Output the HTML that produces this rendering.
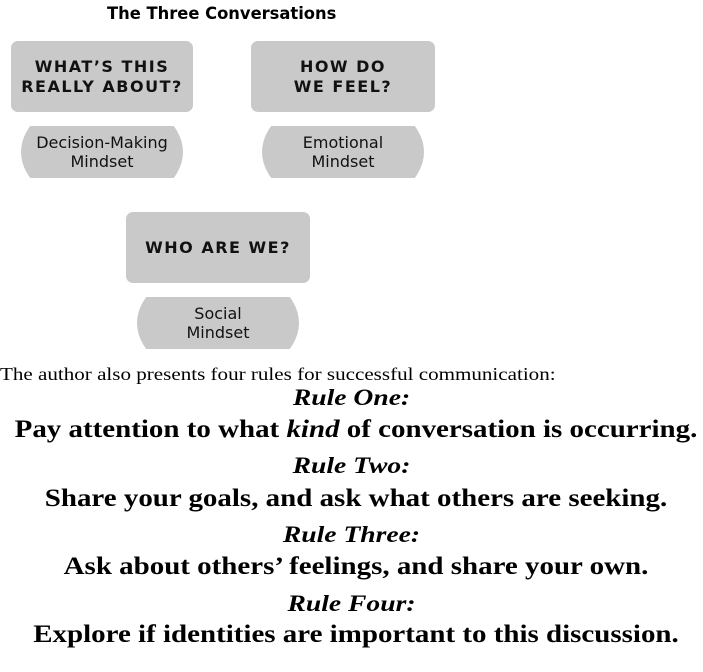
<!DOCTYPE html>
<html><head><meta charset="utf-8"><style>
body{margin:0;width:703px;height:672px;background:#fff;position:relative;overflow:hidden;font-family:"DejaVu Sans","Liberation Sans",sans-serif}
.t{position:absolute;left:107px;top:4px;font-weight:bold;font-size:17px;transform:scaleX(0.96);transform-origin:0 0}
.box{position:absolute;background:#c9c9c9;border-radius:7px;display:flex;align-items:center;justify-content:center;text-align:center;font-weight:bold;font-size:16px;letter-spacing:1.5px;line-height:20px;color:#111}
.pill{position:absolute;overflow:hidden;width:162px;height:52px}
.pill::before{content:"";position:absolute;left:0;top:-30px;width:162px;height:112px;background:#c9c9c9;border-radius:50%}
.pill span{position:relative;display:flex;align-items:center;justify-content:center;height:52px;text-align:center;font-size:16px;line-height:19px;color:#111}
.s{position:absolute;font-family:"Liberation Serif",serif;white-space:nowrap;color:#000;transform-origin:50% 0}
.r{font-weight:bold;font-style:italic;font-size:23px;left:0;width:703px;text-align:center;transform:scaleX(1.2)}
.b{font-weight:bold;font-size:25px;left:0;width:712px;text-align:center;transform:scaleX(1.158)}
</style></head><body>
<div class="t">The Three Conversations</div>
<div class="box" style="left:11px;top:41px;width:182px;height:71px">WHAT’S THIS<br>REALLY ABOUT?</div>
<div class="box" style="left:251px;top:41px;width:184px;height:71px">HOW DO<br>WE FEEL?</div>
<div class="pill" style="left:21px;top:126px"><span>Decision-Making<br>Mindset</span></div>
<div class="pill" style="left:262px;top:126px"><span>Emotional<br>Mindset</span></div>
<div class="box" style="left:126px;top:212px;width:184px;height:71px">WHO ARE WE?</div>
<div class="pill" style="left:137px;top:297px"><span>Social<br>Mindset</span></div>
<div class="s" style="left:0;top:364px;font-size:18px;transform:scaleX(1.17);transform-origin:0 0">The author also presents four rules for successful communication:</div>
<div class="s r" style="top:385px">Rule One:</div>
<div class="s b" style="top:416px">Pay attention to what <i>kind</i> of conversation is occurring.</div>
<div class="s r" style="top:453px">Rule Two:</div>
<div class="s b" style="top:485px">Share your goals, and ask what others are seeking.</div>
<div class="s r" style="top:522px">Rule Three:</div>
<div class="s b" style="top:553px">Ask about others’ feelings, and share your own.</div>
<div class="s r" style="top:591px">Rule Four:</div>
<div class="s b" style="top:621px">Explore if identities are important to this discussion.</div>
</body></html>
